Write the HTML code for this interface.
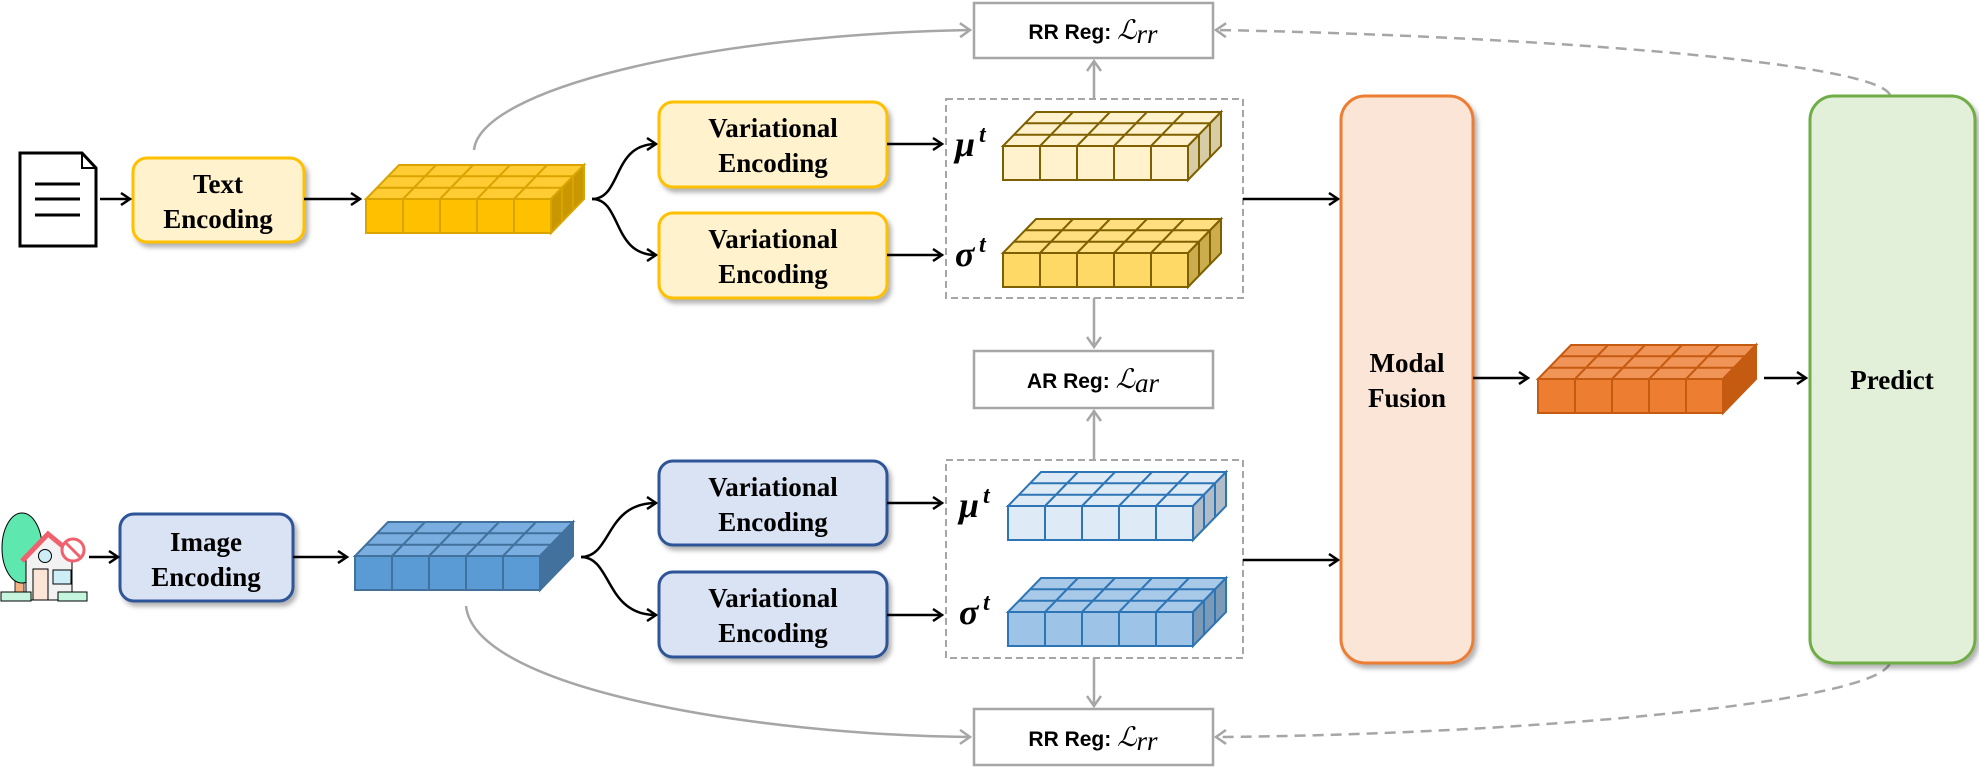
<!DOCTYPE html>
<html><head><meta charset="utf-8"><style>
html,body{margin:0;padding:0;background:#fff;}
svg{display:block;}
.t{font-family:"Liberation Serif",serif;font-weight:bold;font-size:27px;fill:#000;text-anchor:middle;}
.r{font-family:"Liberation Sans",sans-serif;font-weight:bold;font-size:21px;fill:#000;}
.m{font-family:"Liberation Serif",serif;font-style:italic;font-size:27px;fill:#000;}
.g{font-family:"Liberation Serif",serif;font-style:italic;font-weight:bold;font-size:36px;fill:#000;}
.s{font-family:"Liberation Serif",serif;font-style:italic;font-weight:bold;font-size:24px;fill:#000;}
</style></head><body>
<svg width="1979" height="768" viewBox="0 0 1979 768" xmlns="http://www.w3.org/2000/svg">
<defs>
<filter id="sh" x="-20%" y="-20%" width="140%" height="140%"><feDropShadow dx="3" dy="4" stdDeviation="2.5" flood-color="#000" flood-opacity="0.3"/></filter>
<marker id="ab" markerWidth="14" markerHeight="14" refX="11" refY="7" orient="auto" markerUnits="userSpaceOnUse"><path d="M2,1 L11,7 L2,13" fill="none" stroke="#000" stroke-width="2.5"/></marker>
<marker id="ag" markerWidth="16" markerHeight="16" refX="12" refY="8" orient="auto" markerUnits="userSpaceOnUse"><path d="M2,1 L12,8 L2,15" fill="none" stroke="#A6A6A6" stroke-width="2.5"/></marker>
<g id="ten">
<polygon points="0,34 185,34 218,0 33,0" style="fill:var(--t);stroke:var(--s)" stroke-width="2"/>
<polygon points="185,34 218,0 218,34 185,68" style="fill:var(--d);stroke:var(--s)" stroke-width="2"/>
<rect x="0" y="34" width="185" height="34" style="fill:var(--f);stroke:var(--s)" stroke-width="2"/>
<g style="stroke:var(--s)" stroke-width="2" fill="none">
<path d="M37,34v34M74,34v34M111,34v34M148,34v34"/>
<path d="M11,22.7H196M22,11.3H207"/>
<path d="M37,34L70,0M74,34L107,0M111,34L144,0M148,34L181,0"/>
<path d="M196,22.7V56.7M207,11.3V45.3"/>
</g>
</g>
</defs>

<path d="M474,150 C480,90 700,35 970,30" fill="none" stroke="#A6A6A6" stroke-width="2.5" marker-end="url(#ag)"/>
<path d="M466,606 C475,690 760,735 970,737" fill="none" stroke="#A6A6A6" stroke-width="2.5" marker-end="url(#ag)"/>
<path d="M1890,95 C1875,60 1500,35 1216,30" fill="none" stroke="#A6A6A6" stroke-width="2.5" stroke-dasharray="11,7" marker-end="url(#ag)"/>
<path d="M1890,663 C1875,705 1500,735 1216,737" fill="none" stroke="#A6A6A6" stroke-width="2.5" stroke-dasharray="11,7" marker-end="url(#ag)"/>

<!-- document icon -->
<path d="M20,153 H82 L96,168 V246 H20 Z" fill="#fff" stroke="#000" stroke-width="3"/>
<path d="M82,153 V168 H96" fill="none" stroke="#000" stroke-width="2"/>
<path d="M35,184H80M35,199H80M35,215H80" stroke="#000" stroke-width="3"/>

<!-- house icon -->
<rect x="15" y="570" width="9" height="25" fill="#F4B183" stroke="#000" stroke-width="0.8"/>
<ellipse cx="22" cy="548" rx="20" ry="35" fill="#5EE8B0" stroke="#000" stroke-width="1"/>
<polygon points="26,555 48,536 72,556 72,600 26,600" fill="#F2F2F2" stroke="#000" stroke-width="1"/>
<path d="M22,561 L48,534 L76,557" fill="none" stroke="#F0616D" stroke-width="5"/>
<circle cx="45" cy="556" r="6.5" fill="#CDEEF6" stroke="#000" stroke-width="1"/>
<rect x="33" y="569" width="15" height="31" fill="#FBE5D6" stroke="#000" stroke-width="1"/>
<rect x="53" y="570" width="18" height="14" fill="#CDEEF6" stroke="#000" stroke-width="1"/>
<circle cx="73" cy="550" r="11" fill="#fff" stroke="#F0616D" stroke-width="3"/>
<path d="M65,542 L81,558" stroke="#F0616D" stroke-width="3"/>
<rect x="1" y="592" width="30" height="9" fill="#C6F5DD" stroke="#000" stroke-width="1"/>
<rect x="58" y="592" width="29" height="9" fill="#C6F5DD" stroke="#000" stroke-width="1"/>

<rect x="133" y="158" width="171" height="84" rx="14" fill="#FFF2CC" stroke="#FFC000" stroke-width="3" filter="url(#sh)"/>
<text class="t" x="218" y="193">Text</text><text class="t" x="218" y="228">Encoding</text>
<rect x="120" y="514" width="173" height="87" rx="14" fill="#DAE3F3" stroke="#2F5597" stroke-width="3" filter="url(#sh)"/>
<text class="t" x="206" y="551">Image</text><text class="t" x="206" y="586">Encoding</text>

<line x1="100" y1="199" x2="130" y2="199" stroke="#000" stroke-width="2.5" marker-end="url(#ab)"/>
<line x1="304" y1="199" x2="360" y2="199" stroke="#000" stroke-width="2.5" marker-end="url(#ab)"/>
<line x1="89" y1="557" x2="118" y2="557" stroke="#000" stroke-width="2.5" marker-end="url(#ab)"/>
<line x1="293" y1="557" x2="347" y2="557" stroke="#000" stroke-width="2.5" marker-end="url(#ab)"/>

<use href="#ten" x="366" y="165" style="--f:#FFC000;--t:#FFCC33;--d:#C99700;--s:#D9A300"/>
<use href="#ten" x="355" y="522" style="--f:#5B9BD5;--t:#7AAEE0;--d:#41719C;--s:#41719C"/>

<path d="M592,199 C622,199 612,144 656,144" fill="none" stroke="#000" stroke-width="2.5" marker-end="url(#ab)"/>
<path d="M592,199 C622,199 612,255 656,255" fill="none" stroke="#000" stroke-width="2.5" marker-end="url(#ab)"/>
<path d="M581,557 C612,557 605,503 656,503" fill="none" stroke="#000" stroke-width="2.5" marker-end="url(#ab)"/>
<path d="M581,557 C612,557 605,615 656,615" fill="none" stroke="#000" stroke-width="2.5" marker-end="url(#ab)"/>

<rect x="659" y="102" width="228" height="85" rx="14" fill="#FFF2CC" stroke="#FFC000" stroke-width="3" filter="url(#sh)"/>
<text class="t" x="773" y="137">Variational</text><text class="t" x="773" y="172">Encoding</text>
<rect x="659" y="213" width="228" height="85" rx="14" fill="#FFF2CC" stroke="#FFC000" stroke-width="3" filter="url(#sh)"/>
<text class="t" x="773" y="248">Variational</text><text class="t" x="773" y="283">Encoding</text>
<rect x="659" y="461" width="228" height="84" rx="14" fill="#DAE3F3" stroke="#2F5597" stroke-width="3" filter="url(#sh)"/>
<text class="t" x="773" y="496">Variational</text><text class="t" x="773" y="531">Encoding</text>
<rect x="659" y="572" width="228" height="85" rx="14" fill="#DAE3F3" stroke="#2F5597" stroke-width="3" filter="url(#sh)"/>
<text class="t" x="773" y="607">Variational</text><text class="t" x="773" y="642">Encoding</text>

<line x1="887" y1="144" x2="942" y2="144" stroke="#000" stroke-width="2.5" marker-end="url(#ab)"/>
<line x1="887" y1="255" x2="942" y2="255" stroke="#000" stroke-width="2.5" marker-end="url(#ab)"/>
<line x1="887" y1="503" x2="942" y2="503" stroke="#000" stroke-width="2.5" marker-end="url(#ab)"/>
<line x1="887" y1="615" x2="942" y2="615" stroke="#000" stroke-width="2.5" marker-end="url(#ab)"/>

<rect x="946" y="99" width="297" height="199" fill="none" stroke="#A6A6A6" stroke-width="2" stroke-dasharray="7,4"/>
<rect x="946" y="460" width="297" height="198" fill="none" stroke="#A6A6A6" stroke-width="2" stroke-dasharray="7,4"/>
<use href="#ten" x="1003" y="112" style="--f:#FFF2CC;--t:#FFF2CC;--d:#D6CCA6;--s:#7F6000"/>
<use href="#ten" x="1003" y="219" style="--f:#FFD966;--t:#FFDF80;--d:#CCAD4E;--s:#7F6000"/>
<use href="#ten" x="1008" y="472" style="--f:#DEEBF7;--t:#DEEBF7;--d:#B0BCC8;--s:#2E75B6"/>
<use href="#ten" x="1008" y="578" style="--f:#9DC3E6;--t:#A9C9E8;--d:#7A9AB8;--s:#2E75B6"/>
<text class="g" x="955" y="156">μ</text><text class="s" x="979" y="142">t</text>
<text class="g" x="955" y="266">σ</text><text class="s" x="979" y="252">t</text>
<text class="g" x="959" y="517">μ</text><text class="s" x="983" y="503">t</text>
<text class="g" x="959" y="624">σ</text><text class="s" x="983" y="610">t</text>

<rect x="974" y="3" width="239" height="55" fill="#fff" stroke="#A6A6A6" stroke-width="2.5"/>
<text x="1093" y="39" text-anchor="middle"><tspan class="r">RR Reg</tspan><tspan class="r" font-weight="normal">: </tspan><tspan class="m">ℒ</tspan><tspan class="m" font-style="normal" font-size="20" dy="4">rr</tspan></text>
<rect x="974" y="351" width="239" height="57" fill="#fff" stroke="#A6A6A6" stroke-width="2.5"/>
<text x="1093" y="388" text-anchor="middle"><tspan class="r">AR Reg</tspan><tspan class="r" font-weight="normal">: </tspan><tspan class="m">ℒ</tspan><tspan class="m" font-size="20" dy="4">ar</tspan></text>
<rect x="974" y="709" width="239" height="56" fill="#fff" stroke="#A6A6A6" stroke-width="2.5"/>
<text x="1093" y="746" text-anchor="middle"><tspan class="r">RR Reg</tspan><tspan class="r" font-weight="normal">: </tspan><tspan class="m">ℒ</tspan><tspan class="m" font-style="normal" font-size="20" dy="4">rr</tspan></text>

<line x1="1094" y1="98" x2="1094" y2="61" stroke="#A6A6A6" stroke-width="2.5" marker-end="url(#ag)"/>
<line x1="1094" y1="298" x2="1094" y2="347" stroke="#A6A6A6" stroke-width="2.5" marker-end="url(#ag)"/>
<line x1="1094" y1="459" x2="1094" y2="411" stroke="#A6A6A6" stroke-width="2.5" marker-end="url(#ag)"/>
<line x1="1094" y1="658" x2="1094" y2="706" stroke="#A6A6A6" stroke-width="2.5" marker-end="url(#ag)"/>

<line x1="1243" y1="199" x2="1338" y2="199" stroke="#000" stroke-width="2.5" marker-end="url(#ab)"/>
<line x1="1243" y1="560" x2="1338" y2="560" stroke="#000" stroke-width="2.5" marker-end="url(#ab)"/>
<rect x="1341" y="96" width="132" height="567" rx="24" fill="#FBE5D6" stroke="#ED7D31" stroke-width="3" filter="url(#sh)"/>
<text class="t" x="1407" y="372">Modal</text><text class="t" x="1407" y="407">Fusion</text>
<line x1="1473" y1="378" x2="1528" y2="378" stroke="#000" stroke-width="2.5" marker-end="url(#ab)"/>
<use href="#ten" x="1538" y="345" style="--f:#ED7D31;--t:#F09458;--d:#C55A11;--s:#C55A11"/>
<line x1="1764" y1="378" x2="1806" y2="378" stroke="#000" stroke-width="2.5" marker-end="url(#ab)"/>
<rect x="1810" y="96" width="165" height="567" rx="24" fill="#E2F0D9" stroke="#70AD47" stroke-width="3" filter="url(#sh)"/>
<text class="t" x="1892" y="389">Predict</text>
</svg>
</body></html>
